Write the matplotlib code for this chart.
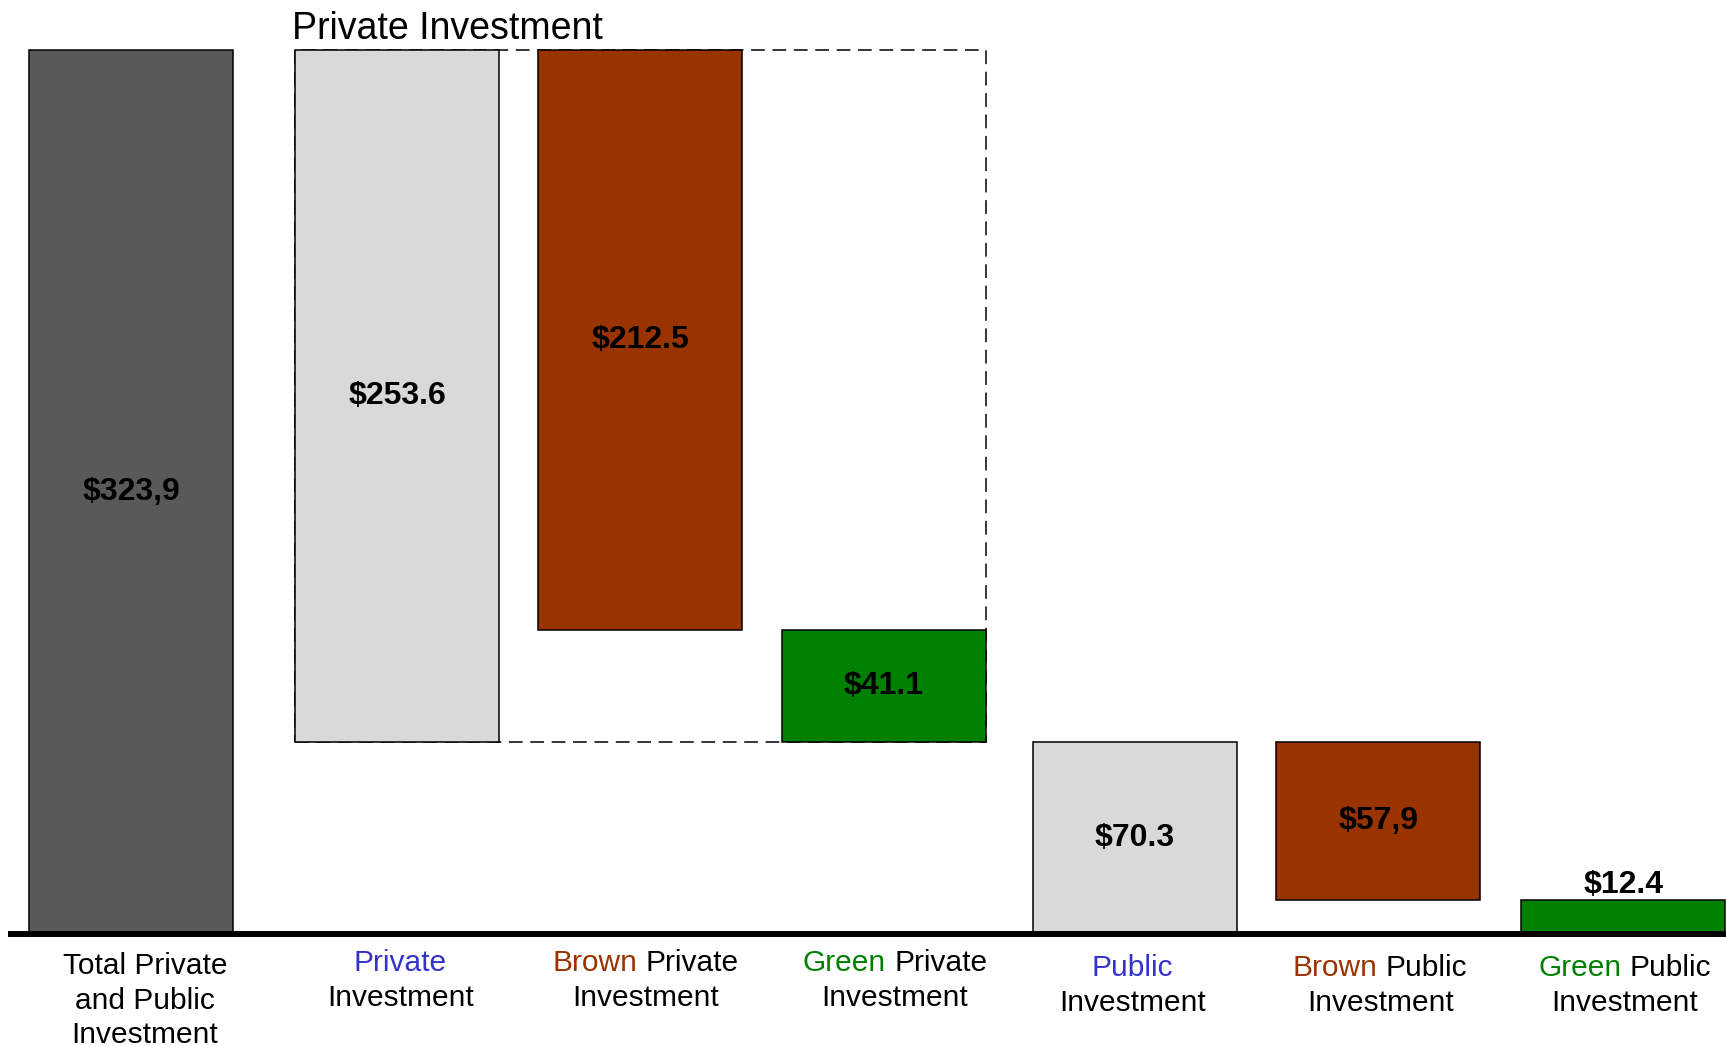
import matplotlib
matplotlib.use("Agg")
import matplotlib.pyplot as plt
from matplotlib.patches import Rectangle
from matplotlib.offsetbox import TextArea, HPacker, VPacker, AnnotationBbox

plt.rcParams['font.family'] = ['Liberation Sans', 'DejaVu Sans']

# data (billions)
total = 323.9
private_total = 253.6
brown_private = 212.5
green_private = 41.1
public_total = 70.3
brown_public = 57.9
green_public = 12.4

value_labels = ["$323,9", "$253.6", "$212.5", "$41.1", "$70.3", "$57,9", "$12.4"]

# category labels: list of lines, each line a list of (word, colour)
BLUE = "#3333cc"
BROWN = "#993300"
GREEN = "#008000"
cat_labels = [
    [[("Total Private", "black")], [("and Public", "black")], [("Investment", "black")]],
    [[("Private", BLUE)], [("Investment", "black")]],
    [[("Brown", BROWN), ("Private", "black")], [("Investment", "black")]],
    [[("Green", GREEN), ("Private", "black")], [("Investment", "black")]],
    [[("Public", BLUE)], [("Investment", "black")]],
    [[("Brown", BROWN), ("Public", "black")], [("Investment", "black")]],
    [[("Green", GREEN), ("Public", "black")], [("Investment", "black")]],
]

# waterfall: heights and bottoms
heights = [total, private_total, brown_private, green_private,
           public_total, brown_public, green_public]
bottoms = [0, public_total, public_total + green_private, public_total,
           0, green_public, 0]
colors = ["#595959", "#d9d9d9", BROWN, GREEN, "#d9d9d9", BROWN, GREEN]

xpos = [0, 1.086, 2.078, 3.073, 4.098, 5.09, 6.09]
width = 0.833

fig = plt.figure(figsize=(17.26, 10.46), dpi=100)
ax = fig.add_axes([0, 112 / 1046, 1, 934 / 1046])
ax.set_xlim(-0.5347, 6.51)
ax.set_ylim(0, 934 / 2.729)
ax.axis("off")

ax.bar(xpos, heights, width=width, bottom=bottoms, color=colors,
       edgecolor="black", linewidth=1.1, zorder=3)

# dashed box around the private investment breakdown
x0 = xpos[1] - width / 2
x1 = xpos[3] + width / 2
ax.add_patch(Rectangle((x0, public_total), x1 - x0, private_total,
                       fill=False, edgecolor="black", linewidth=1.1,
                       linestyle=(0, (9, 5)), zorder=2))

# value labels
for i, (h, b, lab) in enumerate(zip(heights, bottoms, value_labels)):
    if i == 6:
        ax.annotate(lab, (xpos[i], b + h), xytext=(0, 0), textcoords="offset points",
                    ha="center", va="bottom", fontsize=23, fontweight="bold", zorder=5)
    else:
        ax.text(xpos[i], b + h / 2, lab, ha="center", va="center",
                fontsize=23, fontweight="bold", zorder=5)

# baseline
ax.plot([-0.5347 + 8 / 245, 6.51], [0, 0], color="black", linewidth=4.3,
        solid_capstyle="butt", zorder=4, clip_on=False)

# category labels with coloured words
pads = [13, 11, 11, 11, 14.5, 14.5, 14.5]
shifts = [10, 2.4, 4, 8, -2, 1.5, 1]
for i, lines in enumerate(cat_labels):
    rows = []
    for line in lines:
        words = [TextArea(w, textprops=dict(color=c, fontsize=21.5)) for w, c in line]
        rows.append(HPacker(children=words, align="baseline", pad=0, sep=5.9))
    box = VPacker(children=rows, align="center", pad=0, sep=4.8)
    ab = AnnotationBbox(box, (xpos[i], 0), xycoords="data",
                        xybox=(shifts[i], -pads[i]), boxcoords="offset points",
                        box_alignment=(0.5, 1), frameon=False, pad=0,
                        annotation_clip=False)
    ax.add_artist(ab)

fig.text(292 / 1726, 1 - 29 / 1046, "Private Investment", fontsize=27,
         ha="left", va="center")

fig.savefig("out.png", dpi=100)
